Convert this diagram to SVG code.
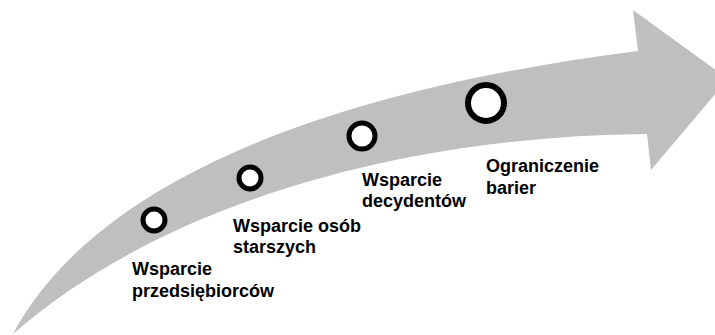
<svg xmlns="http://www.w3.org/2000/svg" width="715" height="335" viewBox="0 0 715 335">
  <style>
    .arrow { fill: #bfbfbf; stroke: none; }
    .dot { fill: #ffffff; stroke: #000000; stroke-width: 5; }
    .lbl { font-family: "Liberation Sans", Arial, sans-serif; font-weight: bold; font-size: 18px; fill: #000000; }
  </style>
  <rect width="715" height="335" fill="#ffffff"/>
  <g id="connectors">
    <path class="arrow" d="M13,334 C95,180 330,90 638,51 L633,10 L728,79 L651,170 L647,134 C400,136 160,205 13,334 Z"/>
  </g>
  <g id="node-przedsiebiorcy">
    <circle class="dot" cx="154" cy="220" r="11"/>
    <text class="lbl" x="132" y="275">Wsparcie</text>
    <text class="lbl" x="132" y="297">przedsiębiorców</text>
  </g>
  <g id="node-starsi">
    <circle class="dot" cx="250" cy="178" r="11"/>
    <text class="lbl" x="233" y="232">Wsparcie osób</text>
    <text class="lbl" x="233" y="253">starszych</text>
  </g>
  <g id="node-decydenci">
    <circle class="dot" cx="362" cy="136" r="13"/>
    <text class="lbl" x="362" y="186">Wsparcie</text>
    <text class="lbl" x="362" y="207">decydentów</text>
  </g>
  <g id="node-bariery">
    <circle class="dot" cx="486" cy="103" r="18" style="stroke-width:6"/>
    <text class="lbl" x="486" y="172">Ograniczenie</text>
    <text class="lbl" x="486" y="194">barier</text>
  </g>
</svg>
